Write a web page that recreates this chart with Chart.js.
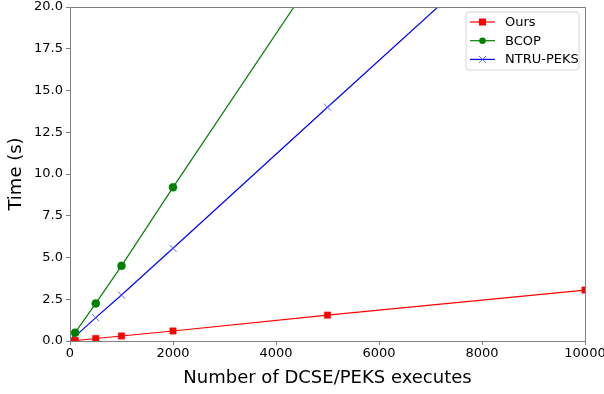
<!DOCTYPE html>
<html>
<head>
<meta charset="utf-8">
<script src="https://cdn.jsdelivr.net/npm/chart.js@4.4.0/dist/chart.umd.min.js"></script>
<style>
html,body{margin:0;padding:0;background:#fff;}
#wrap{width:604px;height:394px;position:relative;}
</style>
</head>
<body>
<div id="wrap"><canvas id="c" width="604" height="394"></canvas></div>
<script>
const executions = [0, 100, 500, 1000, 2000, 5000, 10000];
const ours = [0, 0.03, 0.15, 0.3, 0.6, 1.55, 3.05];
const bcop = [0, 0.5, 2.25, 4.5, 9.2, 23.0, 46.0];
const ntru = [0, 0.28, 1.4, 2.75, 5.55, 14.0, 28.0];
const xTicks = [0, 2000, 4000, 6000, 8000, 10000];
const yTicks = [0, 2.5, 5, 7.5, 10, 12.5, 15, 17.5, 20];
const seriesNames = ['Ours', 'BCOP', 'NTRU-PEKS'];

const FONT = "'DejaVu Sans', sans-serif";
const AXIS = '#808080';

function pts(vals){ return executions.map((x,i)=>({x:x, y:vals[i]})); }
function radii(r){ return executions.map(x => x === 0 ? 0 : r); }

const series = [
  {label: seriesNames[0], data: pts(ours), borderColor:'#ff0000', backgroundColor:'#ff0000', pointStyle:'rect', pointRadius: radii(4.5), pointBorderColor:'#ff0000', pointBorderWidth:0.5},
  {label: seriesNames[1], data: pts(bcop), borderColor:'#008000', backgroundColor:'#008000', pointStyle:'circle', pointRadius: radii(4), pointBorderColor:'#008000', pointBorderWidth:0.5},
  {label: seriesNames[2], data: pts(ntru), borderColor:'#0000ff', backgroundColor:'#0000ff', pointStyle:'crossRot', pointRadius: radii(5), pointBorderColor:'rgba(80,80,255,0.9)', pointBorderWidth:1}
];

const framePlugin = {
  id:'frame',
  afterDraw(chart){
    const {ctx, chartArea:a} = chart;
    ctx.save();
    ctx.strokeStyle = AXIS;
    ctx.lineWidth = 1;
    ctx.strokeRect(a.left+0.5, a.top+0.5, a.right-a.left, a.bottom-a.top);
    // legend
    const lx = 466, ly = 12, lw = 113, lh = 58;
    ctx.beginPath();
    const r = 3;
    ctx.moveTo(lx+r, ly);
    ctx.lineTo(lx+lw-r, ly); ctx.quadraticCurveTo(lx+lw, ly, lx+lw, ly+r);
    ctx.lineTo(lx+lw, ly+lh-r); ctx.quadraticCurveTo(lx+lw, ly+lh, lx+lw-r, ly+lh);
    ctx.lineTo(lx+r, ly+lh); ctx.quadraticCurveTo(lx, ly+lh, lx, ly+lh-r);
    ctx.lineTo(lx, ly+r); ctx.quadraticCurveTo(lx, ly, lx+r, ly);
    ctx.closePath();
    ctx.fillStyle = 'rgba(255,255,255,0.85)';
    ctx.fill();
    ctx.strokeStyle = '#d6d6d6';
    ctx.stroke();
    chart.data.datasets.forEach((ds, i) => {
      const y = 22 + i*18.7;
      ctx.strokeStyle = ds.borderColor;
      ctx.lineWidth = 1.2;
      ctx.beginPath(); ctx.moveTo(470, y); ctx.lineTo(495, y); ctx.stroke();
      const mx = 482.5;
      if (ds.pointStyle === 'rect'){
        ctx.fillStyle = ds.backgroundColor; ctx.fillRect(mx-3.5, y-3.5, 7, 7);
      } else if (ds.pointStyle === 'circle'){
        ctx.fillStyle = ds.backgroundColor; ctx.beginPath(); ctx.arc(mx, y, 3.3, 0, Math.PI*2); ctx.fill();
      } else {
        ctx.strokeStyle = 'rgba(80,80,255,0.9)'; ctx.lineWidth = 1;
        ctx.beginPath(); ctx.moveTo(mx-3.5,y-3.5); ctx.lineTo(mx+3.5,y+3.5); ctx.moveTo(mx+3.5,y-3.5); ctx.lineTo(mx-3.5,y+3.5); ctx.stroke();
      }
      ctx.fillStyle = '#000';
      ctx.font = "13px " + FONT;
      ctx.textBaseline = 'middle';
      ctx.textAlign = 'left';
      ctx.fillText(ds.label, 505, y+0.5);
    });
    ctx.restore();
  }
};

new Chart(document.getElementById('c'), {
  type:'line',
  data:{ datasets: series.map(s => Object.assign({borderWidth:1.2, fill:false, tension:0}, s)) },
  options:{
    responsive:false,
    animation:false,
    layout:{padding:{left:0, right:19, top:7, bottom:0}},
    plugins:{legend:{display:false}, tooltip:{enabled:false}},
    scales:{
      x:{
        type:'linear', min:0, max:10000,
        afterBuildTicks(s){ s.ticks = xTicks.map(v=>({value:v})); },
        afterFit(s){ s.height = 53; s.paddingLeft = 0; s.paddingRight = 0; },
        ticks:{color:'#000', font:{family:FONT, size:13}, padding:1, maxRotation:0, callback:v=>String(v)},
        grid:{display:true, drawOnChartArea:false, drawTicks:true, tickLength:4, color:AXIS, tickColor:AXIS},
        border:{display:true, color:AXIS},
        title:{display:true, text:'Number of DCSE/PEKS executes', color:'#000', font:{family:FONT, size:18}, padding:{top:0, bottom:5}}
      },
      y:{
        type:'linear', min:0, max:20,
        afterBuildTicks(s){ s.ticks = yTicks.map(v=>({value:v})); },
        afterFit(s){ s.width = 70; s.paddingTop = 0; s.paddingBottom = 0; },
        ticks:{color:'#000', font:{family:FONT, size:13}, padding:3, callback:v=>Number(v).toFixed(1)},
        grid:{display:true, drawOnChartArea:false, drawTicks:true, tickLength:4, color:AXIS, tickColor:AXIS},
        border:{display:true, color:AXIS},
        title:{display:true, text:'Time (s)', color:'#000', font:{family:FONT, size:18}, padding:{top:6, bottom:0}}
      }
    }
  },
  plugins:[framePlugin]
});
</script>
</body>
</html>
